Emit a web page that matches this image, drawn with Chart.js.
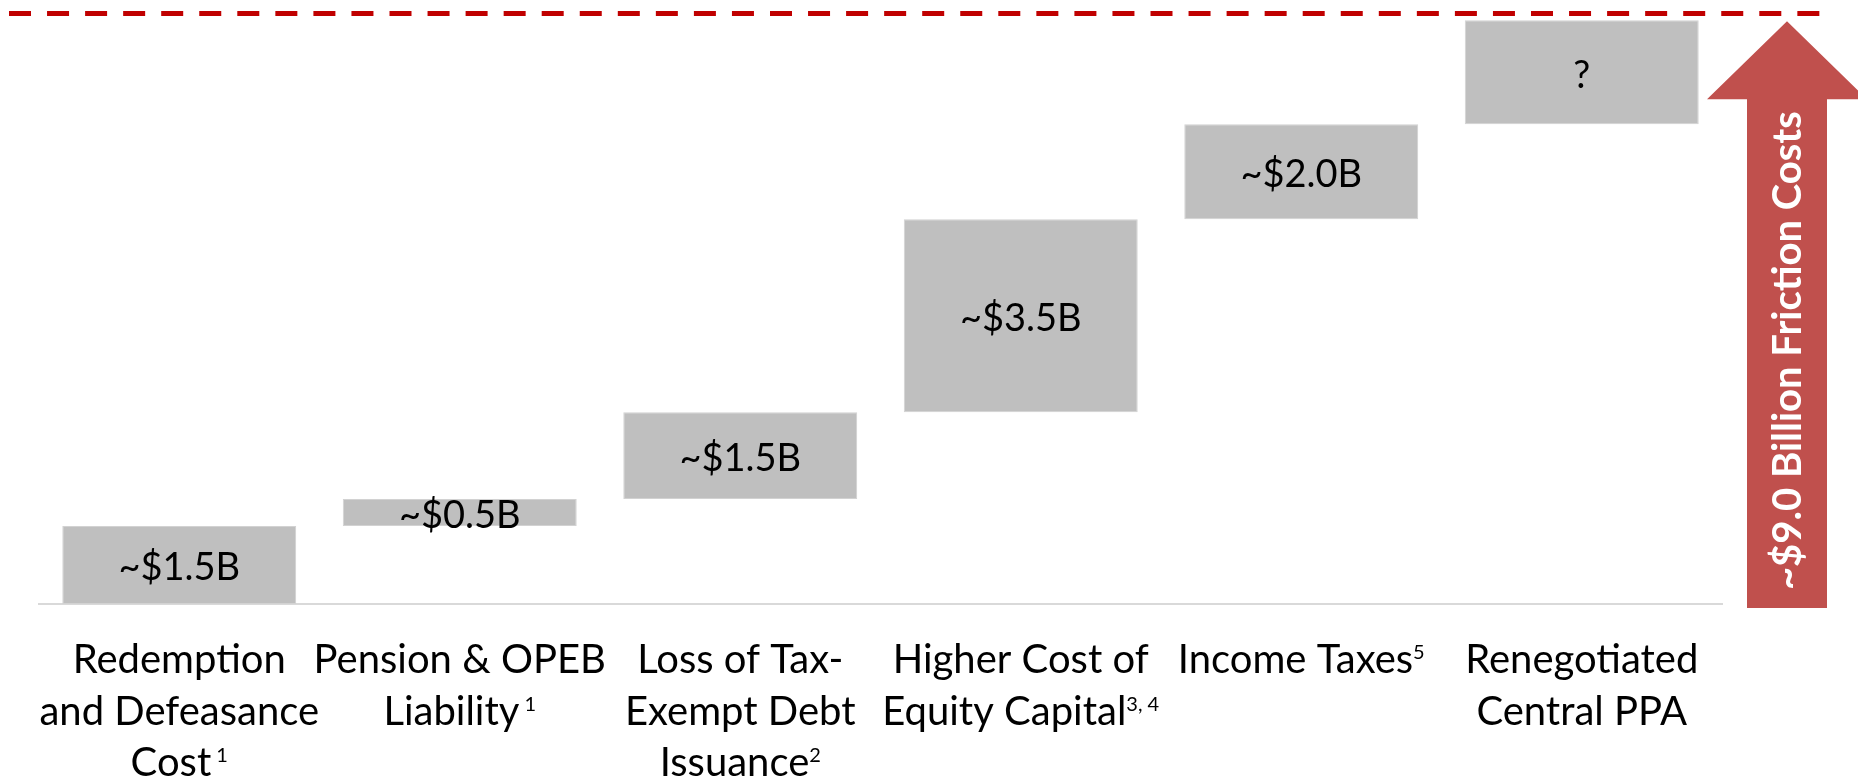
<!DOCTYPE html>
<html><head><meta charset="utf-8">
<script src="https://cdn.jsdelivr.net/npm/chart.js@4.4.0/dist/chart.umd.min.js"></script>
<style>html,body{margin:0;padding:0;background:#fff;}#wrap{width:1858px;height:782px;position:relative;}canvas{display:block;}</style>
</head><body><div id="wrap"><canvas id="c" width="1858" height="782"></canvas></div>
<script>
// ---- data (approx. $B on the drawn scale) ----
const categories = ['Redemption and Defeasance Cost', 'Pension & OPEB Liability', 'Loss of Tax-Exempt Debt Issuance', 'Higher Cost of Equity Capital', 'Income Taxes', 'Renegotiated Central PPA'];
const categoryLines = [['Redemption', 'and Defeasance', 'Cost'], ['Pension & OPEB', 'Liability'], ['Loss of Tax-', 'Exempt Debt', 'Issuance'], ['Higher Cost of', 'Equity Capital'], ['Income Taxes'], ['Renegotiated', 'Central PPA']];
const footnotes = [' 1', ' 1', '2', '3, 4', '5', ''];
const barStart = [0, 1.5, 2.02, 3.69, 7.4, 9.23];
const barEnd = [1.5, 2.02, 3.69, 7.4, 9.23, 11.23];
const valueLabels = ['~$1.5B', '~$0.5B', '~$1.5B', '~$3.5B', '~$2.0B', '?'];
const totalLabel = '~$9.0 Billion Friction Costs';
const targetLevel = 11.36;
const yMax = 11.62;

const FONT = 'Lato, "Open Sans", sans-serif';

const overlay = {
  id: 'overlay',
  afterDatasetsDraw(chart) {
    const { ctx, scales: { x, y }, chartArea } = chart;
    ctx.save();
    // dashed target line
    const ty = y.getPixelForValue(targetLevel);
    ctx.strokeStyle = '#C00000';
    ctx.lineWidth = 5;
    ctx.setLineDash([22, 16.05]);
    ctx.beginPath();
    ctx.moveTo(chartArea.left - 30, ty);
    ctx.lineTo(chartArea.right + 99, ty);
    ctx.stroke();
    ctx.setLineDash([]);

    // arrow
    const sl = chartArea.right + 25, sw = 80, cx = sl + sw / 2;
    const tip = y.getPixelForValue(barEnd[barEnd.length - 1]) + 1;
    const bot = y.getPixelForValue(0) + 4;
    const headH = 78, headHalf = 80;
    ctx.fillStyle = '#C0504D';
    ctx.beginPath();
    ctx.moveTo(cx, tip);
    ctx.lineTo(cx + headHalf, tip + headH);
    ctx.lineTo(sl + sw, tip + headH);
    ctx.lineTo(sl + sw, bot);
    ctx.lineTo(sl, bot);
    ctx.lineTo(sl, tip + headH);
    ctx.lineTo(cx - headHalf, tip + headH);
    ctx.closePath();
    ctx.fill();
    // arrow text
    ctx.save();
    ctx.translate(cx + 1, (tip + headH + bot) / 2 - 3);
    ctx.rotate(-Math.PI / 2);
    ctx.fillStyle = '#FFFFFF';
    ctx.font = 'bold 40px ' + FONT;
    ctx.textAlign = 'center';
    ctx.textBaseline = 'middle';
    ctx.fillText(totalLabel, 0, 0);
    ctx.restore();

    // value labels
    ctx.fillStyle = '#000';
    ctx.font = '38px ' + FONT;
    ctx.textAlign = 'center';
    ctx.textBaseline = 'middle';
    valueLabels.forEach((t, i) => {
      const px = x.getPixelForValue(i);
      const py = (y.getPixelForValue(barStart[i]) + y.getPixelForValue(barEnd[i])) / 2;
      ctx.fillText(t, px, py + 3);
    });

    // category labels with superscript notes
    const base0 = chartArea.bottom + 69, lh = 51.5;
    ctx.textBaseline = 'alphabetic';
    ctx.textAlign = 'left';
    categoryLines.forEach((lines, i) => {
      const px = x.getPixelForValue(i);
      lines.forEach((ln, j) => {
        const by = base0 + j * lh;
        ctx.font = '40px ' + FONT;
        const w = ctx.measureText(ln).width;
        let sw2 = 0;
        const sup = (j === lines.length - 1) ? footnotes[i] : '';
        if (sup) { ctx.font = '20px ' + FONT; sw2 = ctx.measureText(sup).width; }
        const start = px - (w + sw2) / 2;
        ctx.font = '40px ' + FONT;
        ctx.fillText(ln, start, by);
        if (sup) { ctx.font = '20px ' + FONT; ctx.fillText(sup, start + w, by - 14); }
      });
    });
    ctx.restore();
  }
};

new Chart(document.getElementById('c'), {
  type: 'bar',
  data: {
    labels: categories,
    datasets: [{
      data: barStart.map((s, i) => [s, barEnd[i]]),
      backgroundColor: '#BFBFBF',
      borderColor: '#D2D2D2',
      borderWidth: 1,
      borderSkipped: false,
      categoryPercentage: 1,
      barPercentage: 0.834
    }]
  },
  options: {
    responsive: false,
    animation: false,
    devicePixelRatio: 1,
    layout: { padding: { left: 39, right: 136, top: 0, bottom: 0 } },
    plugins: { legend: { display: false }, tooltip: { enabled: false } },
    scales: {
      x: {
        grid: { display: false },
        border: { display: true, color: '#D9D9D9', width: 2 },
        ticks: { display: false },
        afterFit(s) { s.height = 178; }
      },
      y: { display: false, min: 0, max: yMax }
    }
  },
  plugins: [overlay]
});
</script></body></html>
